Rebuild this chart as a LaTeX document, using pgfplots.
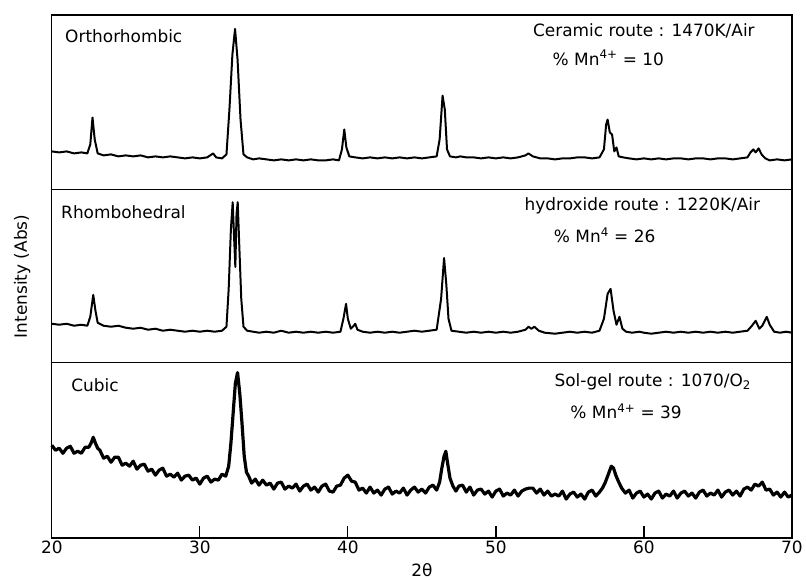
\documentclass[border=0pt]{standalone}
\usepackage{fontspec}
\setmainfont{DejaVu Sans}
\usepackage{pgfplots}
\pgfplotsset{compat=1.18}
\begin{document}
\begin{tikzpicture}
\begin{axis}[
  width=743pt, height=525pt, scale only axis,
  xmin=20, xmax=70, ymin=0, ymax=525,
  xtick={20,30,40,50,60,70},
  ytick=\empty,
  xtick pos=bottom,
  tick align=inside,
  major tick length=12pt,
  axis line style={line width=1.3pt},
  every tick/.style={line width=1.3pt, black},
  /pgf/number format/assume math mode=true,
  ticklabel style={font=\fontsize{17}{20}\selectfont},
  xlabel={\fontsize{17}{20}\selectfont 2θ},
  xlabel style={yshift=-2pt},
  ylabel={\fontsize{17}{20}\selectfont Intensity (Abs)},
  ylabel style={yshift=18pt},
  clip=false,
]
% dividers
\addplot[black, line width=1.3pt] coordinates {(20,350) (70,350)};
\addplot[black, line width=1.3pt] coordinates {(20,176) (70,176)};
% Orthorhombic
\addplot[black, line width=2pt, line join=round] coordinates {
(20,388)(20.5,387)(21,388)(21.5,386)(22,387)(22.4,386)(22.6,395)(22.75,422)(22.9,400)(23.1,386)(23.5,384)(24,385)(24.5,383)(25,384)(25.5,383)(26,384)(26.5,382)(27,383)(27.5,382)(28,383)(28.5,382)(29,381)(29.5,382)(30,381)(30.5,382)(30.9,386)(31.1,382)(31.5,381)(31.8,385)(32.0,430)(32.2,485)(32.38,511)(32.55,480)(32.75,420)(32.95,385)(33.2,382)(33.6,380)(34,381)(34.5,380)(35,379)(35.5,380)(36,379)(36.5,380)(37,379)(37.5,380)(38,379)(38.5,379)(39,380)(39.4,379)(39.6,390)(39.76,410)(39.9,392)(40.1,383)(40.5,382)(41,381)(41.5,382)(42,381)(42.5,382)(43,381)(43.5,382)(44,381)(44.5,382)(45,381)(45.5,382)(46,383)(46.2,400)(46.4,444)(46.55,430)(46.7,390)(46.9,383)(47.3,382)(47.6,383)(48,382)(48.5,382)(49,381)(49.5,382)(50,381)(50.5,382)(51,381)(51.5,382)(52,384)(52.2,386)(52.5,383)(53,381)(53.5,381)(54,380)(54.5,381)(55,381)(55.5,382)(56,382)(56.5,381)(57,382)(57.3,390)(57.45,415)(57.55,420)(57.7,407)(57.85,405)(58.0,388)(58.15,392)(58.3,383)(58.6,382)(59,381)(59.5,380)(60,381)(60.5,380)(61,381)(61.5,380)(62,381)(62.5,381)(63,380)(63.5,381)(64,381)(64.5,380)(65,381)(65.5,381)(66,380)(66.5,381)(67,382)(67.2,387)(67.4,390)(67.55,387)(67.75,391)(67.95,385)(68.2,381)(68.5,379)(69,380)(69.5,379)(70,380)
};
% Rhombohedral
\addplot[black, line width=2pt, line join=round] coordinates {
(20,215)(20.5,214)(21,215)(21.5,213)(22,214)(22.4,213)(22.6,222)(22.8,244)(22.95,228)(23.1,216)(23.5,213)(24,212)(24.5,213)(25,211)(25.5,210)(26,211)(26.5,209)(27,210)(27.5,208)(28,209)(28.5,208)(29,207)(29.5,208)(30,207)(30.5,208)(31,207)(31.5,208)(31.8,212)(31.95,250)(32.1,310)(32.22,337)(32.32,300)(32.4,272)(32.48,325)(32.56,337)(32.65,300)(32.8,240)(32.95,212)(33.2,208)(33.6,207)(34,206)(34.5,207)(35,206)(35.5,208)(36,206)(36.5,207)(37,206)(37.5,207)(38,206)(38.5,207)(39,206)(39.5,207)(39.7,220)(39.88,235)(40.0,220)(40.2,210)(40.4,213)(40.5,215)(40.65,209)(41,207)(41.5,206)(42,207)(42.5,206)(43,207)(43.5,206)(44,207)(44.5,208)(45,207)(45.5,208)(46,209)(46.3,240)(46.5,281)(46.65,255)(46.8,220)(47,208)(47.5,207)(48,206)(48.5,207)(49,206)(49.5,207)(50,206)(50.5,207)(51,206)(51.5,207)(52,209)(52.2,212)(52.4,210)(52.6,212)(52.9,208)(53.3,206)(54,205)(54.5,206)(55,207)(55.5,206)(56,207)(56.5,206)(57,208)(57.3,220)(57.55,245)(57.75,250)(57.95,228)(58.15,214)(58.35,222)(58.55,210)(58.8,207)(59.2,206)(59.7,207)(60,206)(60.5,205)(61,206)(61.5,207)(62,206)(62.5,207)(63,206)(63.5,207)(64,206)(64.5,207)(65,206)(65.5,207)(66,206)(66.5,207)(67,208)(67.3,213)(67.55,218)(67.8,210)(68.0,213)(68.3,222)(68.5,214)(68.8,207)(69.2,206)(69.6,207)(70,206)
};
% Cubic
\addplot[black, line width=3.2pt, line join=round] coordinates {
(20.00,93)(20.25,88)(20.50,90)(20.75,85)(21.00,90)(21.25,92)(21.50,85)(21.75,87)(22.00,85)(22.25,91)(22.50,91)(22.65,95)(22.80,101)(22.95,95)(23.10,90)(23.25,88)(23.50,80)(23.75,82)(24.00,76)(24.25,81)(24.50,81)(24.75,73)(25.00,75)(25.25,72)(25.50,77)(25.75,69)(26.00,73)(26.25,74)(26.50,67)(26.75,69)(27.00,63)(27.25,68)(27.50,70)(27.75,62)(28.00,64)(28.25,61)(28.50,65)(28.75,58)(29.00,62)(29.25,63)(29.50,58)(29.75,60)(30.00,54)(30.25,60)(30.50,62)(30.75,56)(31.00,59)(31.25,58)(31.50,64)(31.75,62)(31.95,72)(32.10,95)(32.25,125)(32.40,155)(32.55,166)(32.70,145)(32.85,115)(33.00,82)(33.15,66)(33.30,62)(33.50,55)(33.75,59)(34.00,53)(34.25,58)(34.50,53)(34.75,55)(35.00,49)(35.25,55)(35.50,56)(35.75,49)(36.00,52)(36.25,50)(36.50,54)(36.75,47)(37.00,52)(37.25,54)(37.50,48)(37.75,51)(38.00,46)(38.25,52)(38.50,54)(38.75,47)(39.00,46)(39.25,52)(39.50,53)(39.75,60)(40.00,63)(40.25,57)(40.50,56)(40.75,48)(41.00,50)(41.25,45)(41.50,51)(41.75,45)(42.00,48)(42.25,43)(42.50,49)(42.75,51)(43.00,44)(43.25,47)(43.50,45)(43.75,50)(44.00,43)(44.25,48)(44.50,51)(44.75,46)(45.00,49)(45.25,45)(45.50,51)(45.75,53)(46.00,48)(46.20,56)(46.35,70)(46.50,82)(46.62,87)(46.75,74)(46.90,60)(47.10,52)(47.30,47)(47.50,52)(47.75,53)(48.00,46)(48.25,51)(48.50,43)(48.75,48)(49.00,49)(49.25,44)(49.50,47)(49.75,41)(50.00,47)(50.25,49)(50.50,42)(50.75,45)(51.00,43)(51.25,48)(51.50,42)(51.75,47)(52.00,49)(52.25,50)(52.50,50)(52.75,45)(53.00,49)(53.25,43)(53.50,47)(53.75,42)(54.00,44)(54.25,42)(54.50,47)(54.75,39)(55.00,44)(55.25,46)(55.50,41)(55.75,44)(56.00,39)(56.25,46)(56.50,48)(56.75,42)(57.00,46)(57.20,50)(57.40,56)(57.60,64)(57.80,72)(57.95,70)(58.10,63)(58.30,56)(58.50,50)(58.75,45)(59.00,48)(59.25,40)(59.50,45)(59.75,47)(60.00,41)(60.25,44)(60.50,39)(60.75,45)(61.00,47)(61.25,40)(61.50,44)(61.75,42)(62.00,47)(62.25,40)(62.50,45)(62.75,47)(63.00,42)(63.25,45)(63.50,40)(63.75,46)(64.00,48)(64.25,42)(64.50,45)(64.75,43)(65.00,48)(65.25,41)(65.50,46)(65.75,48)(66.00,43)(66.25,47)(66.50,42)(66.75,49)(67.00,51)(67.25,48)(67.50,54)(67.75,52)(68.00,56)(68.25,48)(68.50,49)(68.75,43)(69.00,46)(69.25,41)(69.50,46)(69.75,41)(70.00,43)
};
% labels
\node[anchor=west, font=\fontsize{17}{20}\selectfont] at (axis cs:20.67,504) {Orthorhombic};
\node[anchor=west, font=\fontsize{17}{20}\selectfont] at (axis cs:20.4,327) {Rhombohedral};
\node[anchor=west, font=\fontsize{17}{20}\selectfont] at (axis cs:21.08,153) {Cubic};
\node[font=\fontsize{17}{20}\selectfont] at (axis cs:60.0,509) {Ceramic route : 1470K/Air};
\node[font=\fontsize{17}{20}\selectfont] at (axis cs:57.6,482) {\% Mn\textsuperscript{4+} = 10};
\node[font=\fontsize{17}{20}\selectfont] at (axis cs:59.9,333) {hydroxide route : 1220K/Air};
\node[font=\fontsize{17}{20}\selectfont] at (axis cs:57.35,304) {\% Mn\textsuperscript{4} = 26};
\node[font=\fontsize{17}{20}\selectfont] at (axis cs:60.6,157) {Sol-gel route : 1070/O\textsubscript{2}};
\node[font=\fontsize{17}{20}\selectfont] at (axis cs:58.8,127) {\% Mn\textsuperscript{4+} = 39};
\end{axis}
\path[use as bounding box] (current axis.south west) ++(-52pt,-42pt) rectangle ++(806pt,582pt);
\end{tikzpicture}
\end{document}
